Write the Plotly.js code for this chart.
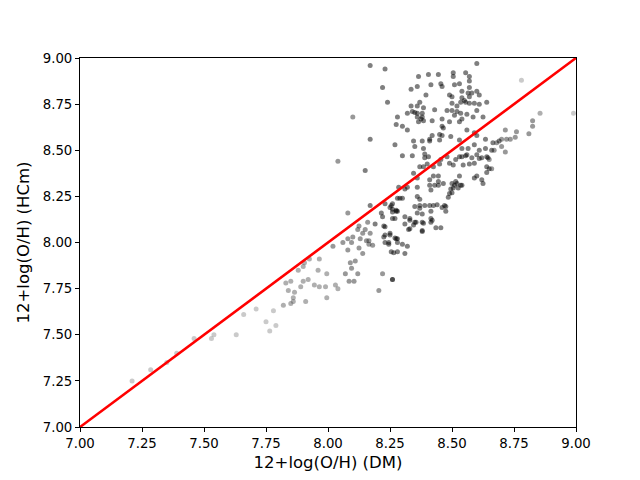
<!DOCTYPE html>
<html>
<head>
<meta charset="utf-8">
<script src="https://cdn.plot.ly/plotly-3.0.1.min.js"></script>
<style>
  html, body { margin: 0; padding: 0; background: #ffffff; }
  #plot { width: 640px; height: 480px; }
</style>
</head>
<body>
<div id="plot"></div>
<script>
// 12+log(O/H): DM method (x) vs HCm (y), grouped by how dark the marker is
const faintDM = [7.21, 7.285, 7.35, 7.39, 7.46, 7.53, 7.54, 7.63, 7.66, 7.71, 7.75, 7.765, 7.78, 7.79, 8.78, 8.99];
const faintHCm = [7.25, 7.31, 7.35, 7.40, 7.48, 7.48, 7.50, 7.50, 7.61, 7.64, 7.57, 7.52, 7.63, 7.55, 8.88, 8.70];

const lightDM = [7.82, 7.83, 7.84, 7.85, 7.85, 7.86, 7.865, 7.88, 7.89, 7.90, 7.90, 7.91, 7.92, 7.925, 7.86, 7.905,
    7.945, 7.965, 7.96, 7.965, 7.99, 7.995, 7.995, 8.03, 8.04, 8.855];
const lightHCm = [7.66, 7.78, 7.74, 7.79, 7.67, 7.68, 7.73, 7.85, 7.76, 7.79, 7.87, 7.68, 7.80, 7.91, 7.70, 7.89,
    7.77, 7.76, 7.85, 7.91, 7.76, 7.70, 7.83, 7.77, 7.75, 8.70];

const midDM = [8.02, 8.06, 8.08, 8.10, 8.095, 8.08, 8.13, 8.125, 8.12, 8.14, 8.15, 8.16, 8.155, 8.165, 8.165, 8.17,
    8.18, 8.14, 8.125, 8.11, 8.09, 8.095, 8.07, 8.12, 8.085, 8.105, 8.22, 8.26, 8.205, 8.08, 8.04, 8.10,
    8.825, 8.825, 8.81, 8.76, 8.755, 8.735, 8.72, 8.715, 8.70, 8.68, 8.70, 8.715, 8.67, 8.65, 8.66];
const midHCm = [7.98, 8.00, 8.02, 8.03, 8.00, 7.96, 8.02, 8.09, 8.07, 8.05, 8.07, 8.11, 8.01, 8.01, 7.99, 8.05,
    7.985, 7.94, 7.97, 7.90, 7.89, 7.86, 7.83, 7.83, 7.79, 7.79, 7.83, 7.80, 7.74, 8.16, 8.44, 8.68,
    8.66, 8.63, 8.59, 8.60, 8.57, 8.56, 8.56, 8.61, 8.56, 8.54, 8.52, 8.49, 8.50, 8.45, 8.40];

const darkDM = [
    8.17, 8.23, 8.22, 8.24, 8.28, 8.275, 8.30, 8.32, 8.32, 8.17, 8.27, 8.30, 8.15, 8.17, 8.19, 8.225,
    8.215, 8.22, 8.23, 8.23, 8.25, 8.245, 8.245, 8.255, 8.28, 8.265, 8.28, 8.25, 8.26, 8.28, 8.28, 8.27, 8.23,
    8.60, 8.365, 8.405, 8.445, 8.505, 8.505, 8.555, 8.57, 8.57, 8.335, 8.36, 8.415, 8.455, 8.46, 8.51, 8.53,
    8.57, 8.54, 8.565, 8.58, 8.60, 8.61, 8.395, 8.49, 8.50, 8.54, 8.55, 8.555, 8.57, 8.535, 8.50, 8.52,
    8.57, 8.59, 8.61, 8.64, 8.37, 8.36, 8.335, 8.385, 8.34, 8.35, 8.36, 8.38, 8.43, 8.48, 8.50, 8.52,
    8.535, 8.56, 8.60, 8.51, 8.54, 8.53, 8.585, 8.625, 8.36, 8.38, 8.375, 8.365, 8.385, 8.42, 8.46, 8.49,
    8.46, 8.465, 8.42, 8.41, 8.41, 8.45, 8.46, 8.45, 8.495, 8.38, 8.345, 8.35, 8.34, 8.385, 8.39, 8.56,
    8.59, 8.60, 8.635, 8.665, 8.69, 8.53, 8.54, 8.565, 8.59, 8.61, 8.635, 8.53, 8.555, 8.58, 8.60, 8.62,
    8.645, 8.66,
    8.39, 8.405, 8.37, 8.385, 8.40, 8.425, 8.45, 8.455, 8.49, 8.505, 8.515, 8.54, 8.56, 8.57, 8.59, 8.61,
    8.64, 8.64, 8.65, 8.60, 8.62, 8.625, 8.345, 8.36, 8.285, 8.31, 8.32, 8.36, 8.41, 8.425, 8.445, 8.445,
    8.465, 8.41, 8.415, 8.43, 8.50, 8.51, 8.515, 8.52, 8.53, 8.54, 8.525, 8.50, 8.495, 8.485, 8.475, 8.46,
    8.425, 8.41, 8.415, 8.39, 8.37, 8.37, 8.36, 8.38, 8.42, 8.385, 8.355, 8.33, 8.345, 8.33, 8.31, 8.26,
    8.26, 8.275, 8.255, 8.35, 8.36, 8.37, 8.29, 8.30, 8.23, 8.225, 8.25, 8.27, 8.435, 8.455, 8.38, 8.545,
    8.48, 8.59, 8.64, 8.445, 8.535, 8.505, 8.49, 8.47, 8.475, 8.44, 8.31, 8.30, 8.275, 8.32, 8.31, 8.325,
    8.33, 8.35, 8.38, 8.38, 8.415, 8.415, 8.26, 8.275, 8.26, 8.28
];
const darkHCm = [
    8.96, 8.94, 8.84, 8.76, 8.68, 8.64, 8.63, 8.61, 8.70, 8.56, 8.53, 8.47, 8.39, 8.20, 8.10, 8.09,
    8.16, 8.14, 8.04, 8.00, 8.05, 8.00, 7.99, 7.95, 8.02, 7.945, 7.95, 8.19, 8.18, 8.24, 8.17, 8.13, 8.21,
    8.97, 8.90, 8.91, 8.91, 8.92, 8.90, 8.92, 8.90, 8.875, 8.83, 8.845, 8.855, 8.86, 8.845, 8.855, 8.86,
    8.84, 8.82, 8.81, 8.81, 8.82, 8.80, 8.80, 8.80, 8.79, 8.785, 8.77, 8.76, 8.79, 8.76, 8.755, 8.74,
    8.755, 8.755, 8.75, 8.76, 8.76, 8.74, 8.74, 8.73, 8.71, 8.705, 8.70, 8.70, 8.72, 8.715, 8.715, 8.71,
    8.70, 8.695, 8.715, 8.69, 8.67, 8.655, 8.68, 8.68, 8.68, 8.68, 8.67, 8.655, 8.66, 8.66, 8.67, 8.655,
    8.63, 8.62, 8.58, 8.56, 8.55, 8.585, 8.58, 8.555, 8.575, 8.55, 8.55, 8.52, 8.47, 8.51, 8.46, 8.61,
    8.595, 8.58, 8.56, 8.54, 8.55, 8.555, 8.51, 8.51, 8.53, 8.50, 8.51, 8.465, 8.47, 8.46, 8.475, 8.46,
    8.46, 8.50,
    8.48, 8.465, 8.41, 8.41, 8.425, 8.41, 8.425, 8.45, 8.43, 8.42, 8.45, 8.465, 8.475, 8.425, 8.43, 8.455,
    8.465, 8.41, 8.40, 8.36, 8.34, 8.32, 8.375, 8.35, 8.30, 8.29, 8.30, 8.30, 8.34, 8.36, 8.36, 8.31,
    8.32, 8.31, 8.285, 8.31, 8.32, 8.31, 8.33, 8.32, 8.36, 8.31, 8.295, 8.27, 8.29, 8.245, 8.195, 8.19,
    8.20, 8.20, 8.17, 8.20, 8.20, 8.185, 8.16, 8.155, 8.12, 8.105, 8.11, 8.12, 8.095, 8.075, 8.14, 8.13,
    8.165, 8.175, 8.20, 8.195, 8.25, 8.235, 8.24, 8.24, 8.085, 8.03, 8.04, 8.025, 8.08, 8.08, 8.065, 8.42,
    8.465, 8.35, 8.38, 8.33, 8.31, 8.295, 8.265, 8.20, 8.17, 8.205, 7.94, 7.99, 8.02, 7.98, 8.10, 8.07,
    8.13, 8.11, 8.11, 8.06, 8.13, 8.11, 8.21, 8.17, 7.80, 8.00
];

// one-to-one reference line
const oneToOne = [7, 9];

function pointTrace(x, y, color) {
    return {
        x: x,
        y: y,
        type: "scatter",
        mode: "markers",
        marker: { size: 5, color: color, line: { width: 0 } },
        hoverinfo: "x+y",
        showlegend: false
    };
}

const traces = [
    pointTrace(faintDM, faintHCm, "rgba(150,150,150,0.5)"),
    pointTrace(lightDM, lightHCm, "rgba(95,95,95,0.5)"),
    pointTrace(midDM, midHCm, "rgba(50,50,50,0.5)"),
    pointTrace(darkDM, darkHCm, "rgba(0,0,0,0.5)"),
    {
        x: oneToOne,
        y: oneToOne,
        type: "scatter",
        mode: "lines",
        line: { color: "#ff0000", width: 2.6 },
        hoverinfo: "skip",
        showlegend: false
    }
];

const axisCommon = {
    range: [7, 9],
    tick0: 7,
    dtick: 0.25,
    tickformat: ".2f",
    showgrid: false,
    zeroline: false,
    showline: true,
    linecolor: "#000000",
    linewidth: 1,
    mirror: true,
    ticks: "outside",
    ticklen: 4,
    tickwidth: 1,
    tickcolor: "#000000",
    tickfont: { family: "DejaVu Sans", size: 13.3, color: "#000000" }
};

const layout = {
    width: 640,
    height: 480,
    margin: { l: 80, r: 64, t: 58, b: 53 },
    paper_bgcolor: "#ffffff",
    plot_bgcolor: "#ffffff",
    showlegend: false,
    xaxis: Object.assign({}, axisCommon, {
        title: { text: "12+log(O/H) (DM)", font: { family: "DejaVu Sans", size: 16.5, color: "#000000" }, standoff: 6 }
    }),
    yaxis: Object.assign({}, axisCommon, {
        title: { text: "12+log(O/H) (HCm)", font: { family: "DejaVu Sans", size: 16.5, color: "#000000" }, standoff: 8 }
    })
};

Plotly.newPlot("plot", traces, layout, { displayModeBar: false, staticPlot: true });
</script>
</body>
</html>
